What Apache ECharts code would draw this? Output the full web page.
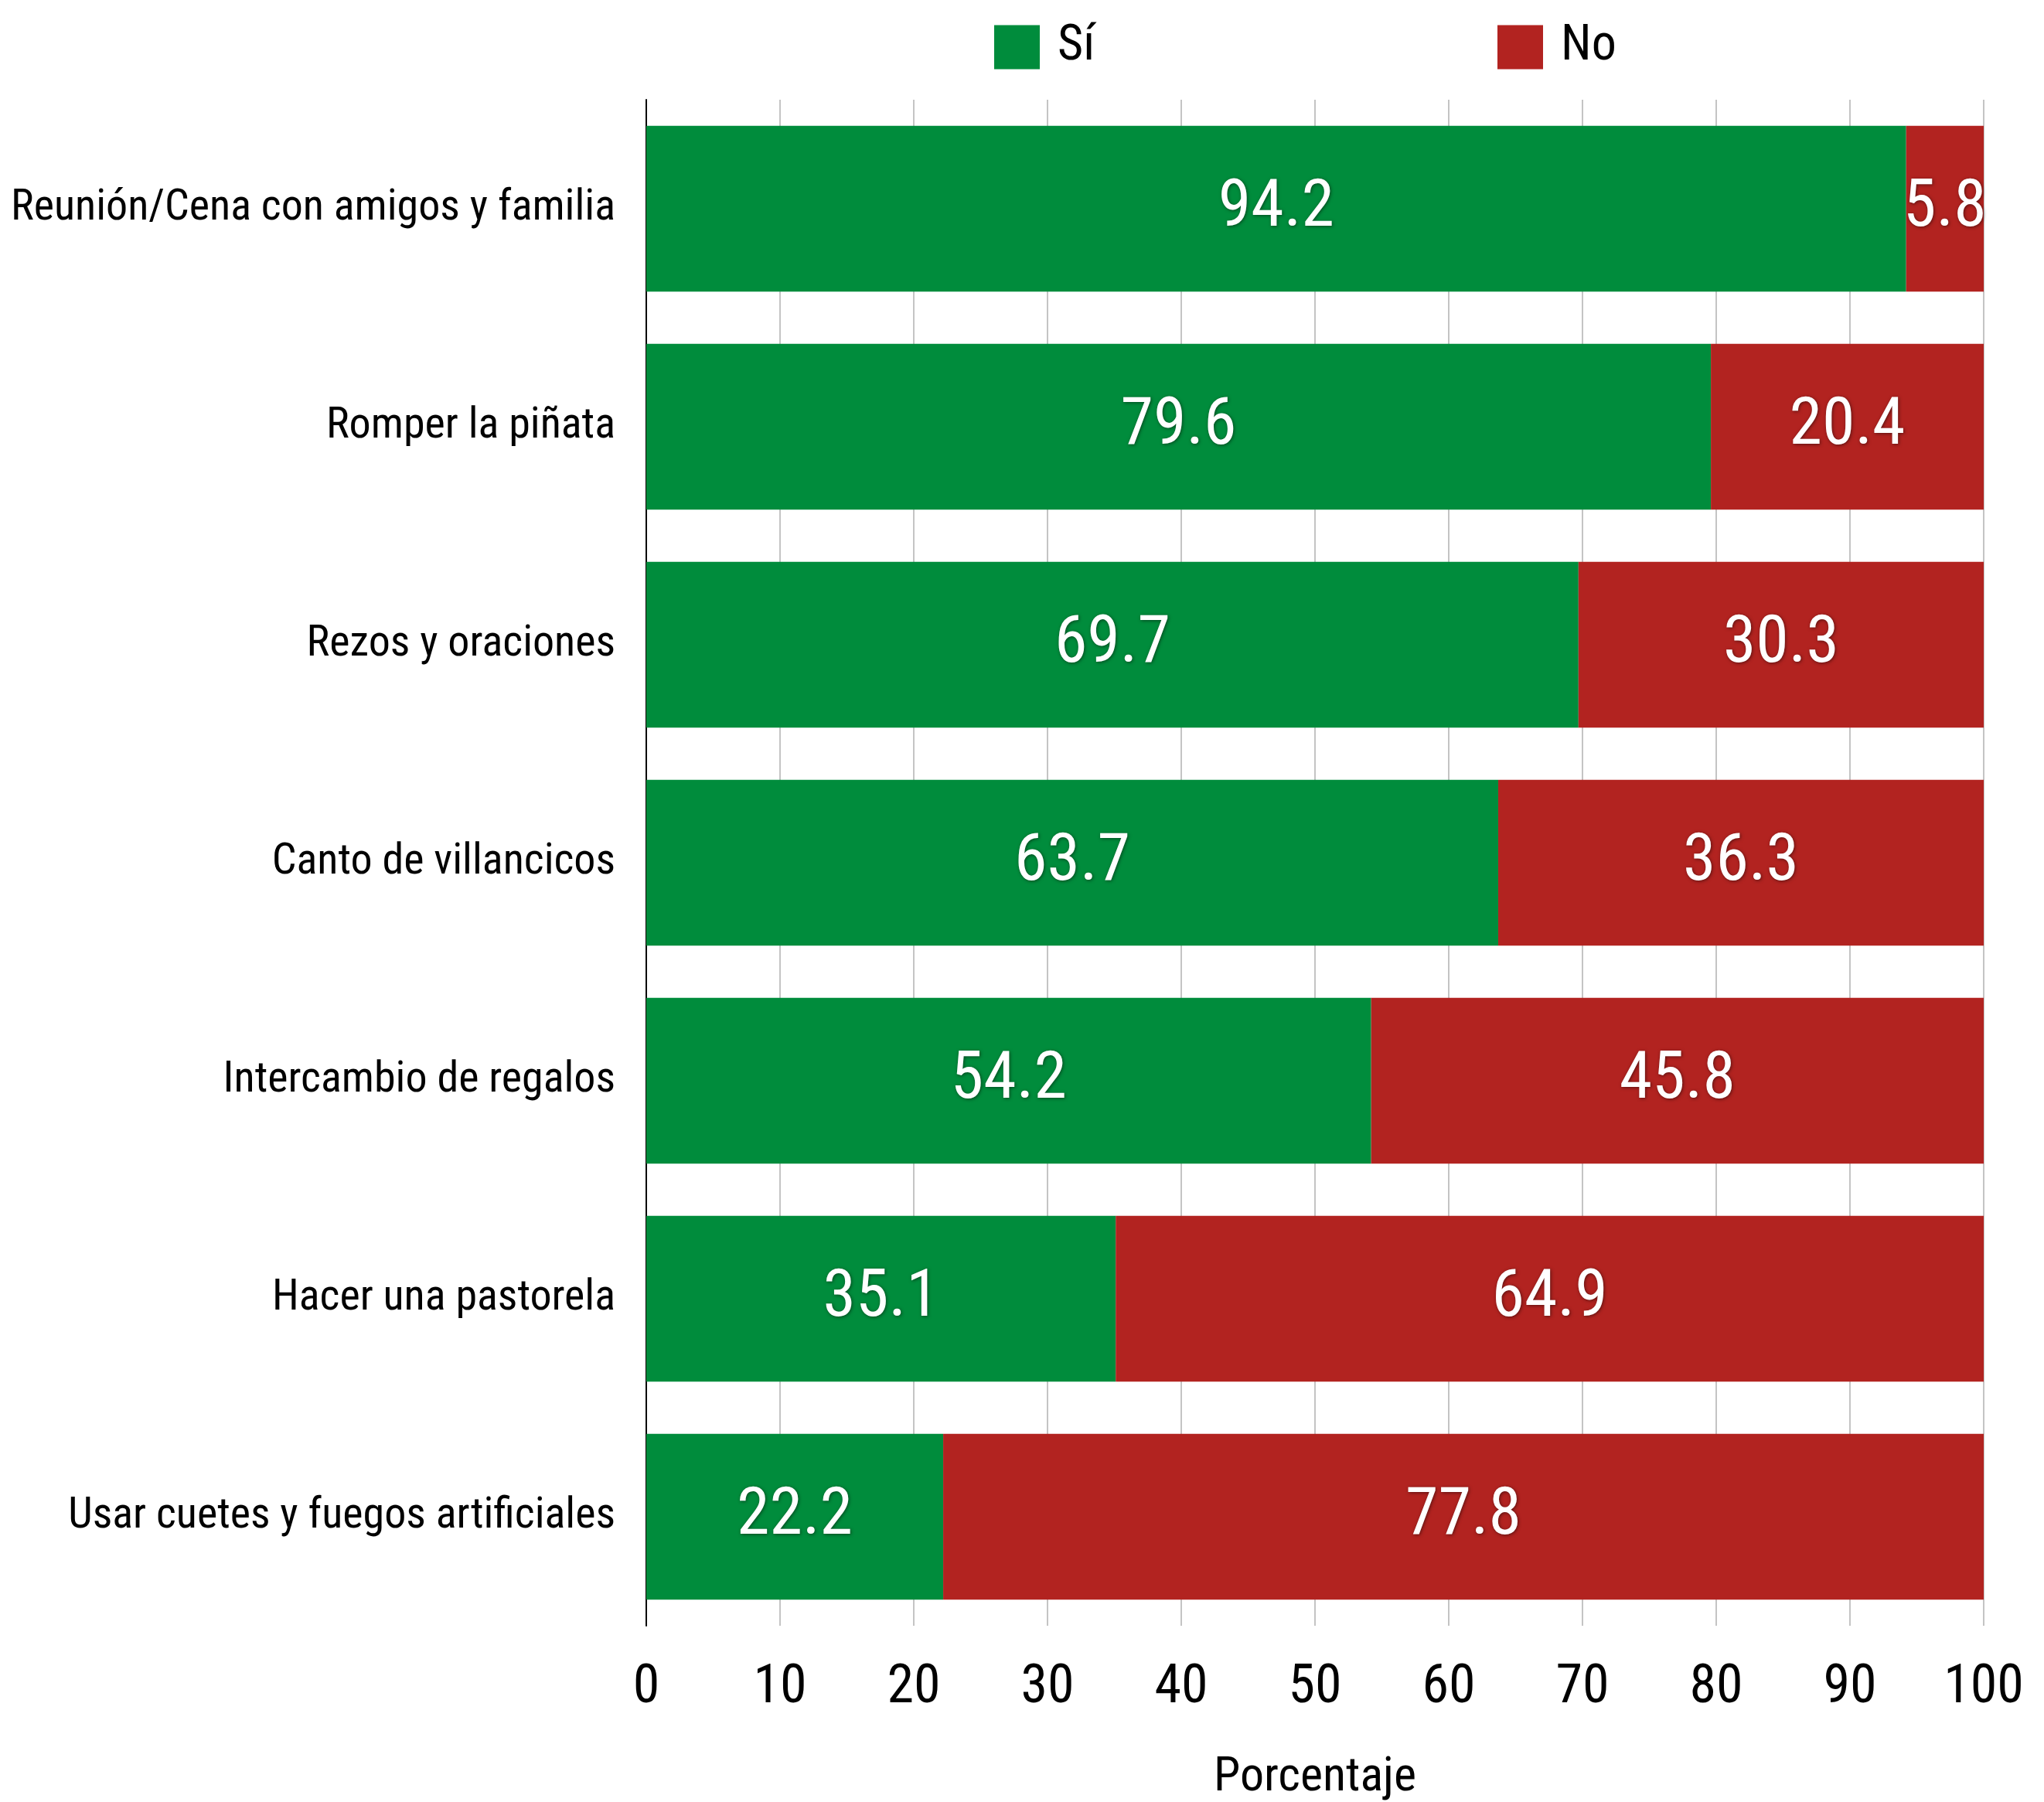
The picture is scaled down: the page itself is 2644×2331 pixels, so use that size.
<!DOCTYPE html>
<html>
<head>
<meta charset="utf-8">
<script src="https://cdn.jsdelivr.net/npm/echarts@6/dist/echarts.min.js"></script>
<style>
html,body{margin:0;padding:0;background:#fff;}
#c{width:2644px;height:2331px;}
</style>
</head>
<body>
<div id="c"></div>
<script>
const categories = [
  'Reunión/Cena con amigos y familia',
  'Romper la piñata',
  'Rezos y oraciones',
  'Canto de villancicos',
  'Intercambio de regalos',
  'Hacer una pastorela',
  'Usar cuetes y fuegos artificiales'
];
const siValues = [94.2, 79.6, 69.7, 63.7, 54.2, 35.1, 22.2];
const noValues = [5.8, 20.4, 30.3, 36.3, 45.8, 64.9, 77.8];
const xTicks = [0, 10, 20, 30, 40, 50, 60, 70, 80, 90, 100];

const FONT = '"Roboto Condensed", "Liberation Sans Narrow", "DejaVu Sans Condensed", Roboto, sans-serif';
const GREEN = '#008C3C';
const RED = '#B22320';

const chart = echarts.init(document.getElementById('c'), null, {renderer: 'canvas'});
const labelStyle = {
  show: true,
  position: 'inside',
  color: '#fff',
  fontFamily: FONT,
  fontSize: 86,
  textShadowColor: 'rgba(0,0,0,0.5)',
  textShadowBlur: 4,
  textShadowOffsetX: 1,
  textShadowOffsetY: 1,
  formatter: p => p.value.toFixed(1)
};
chart.setOption({
  animation: false,
  backgroundColor: '#fff',
  textStyle: {fontFamily: FONT},
  legend: [
    {
      data: ['Sí'], left: 1281, top: 24, itemWidth: 59, itemHeight: 57, icon: 'rect',
      textStyle: {fontFamily: FONT, fontSize: 64, color: '#000', padding: [0, 0, 0, 18]}
    },
    {
      data: ['No'], left: 1932, top: 24, itemWidth: 59, itemHeight: 57, icon: 'rect',
      textStyle: {fontFamily: FONT, fontSize: 64, color: '#000', padding: [0, 0, 0, 18]}
    }
  ],
  grid: {left: 836, right: 2644 - 2566, top: 129, bottom: 2331 - 2103, containLabel: false, outerBoundsMode: 'none'},
  xAxis: {
    type: 'value', min: 0, max: 100, interval: 10,
    axisLine: {show: false},
    axisTick: {show: false},
    splitLine: {show: true, lineStyle: {color: '#c4c4c4', width: 2}},
    axisLabel: {
      fontFamily: FONT, fontSize: 70, color: '#000', margin: 46,
      formatter: v => xTicks.includes(v) ? String(v) : ''
    },
    name: 'Porcentaje', nameLocation: 'middle', nameGap: 166,
    nameTextStyle: {fontFamily: FONT, fontSize: 62, color: '#000'}
  },
  yAxis: {
    type: 'category', data: categories, inverse: true,
    axisLine: {show: true, lineStyle: {color: '#000', width: 2}},
    axisTick: {show: false},
    axisLabel: {fontFamily: FONT, fontSize: 56, color: '#000', margin: 40}
  },
  series: [
    {
      name: 'Sí', type: 'bar', stack: 'total', data: siValues,
      barCategoryGap: '24%', itemStyle: {color: GREEN},
      label: labelStyle
    },
    {
      name: 'No', type: 'bar', stack: 'total', data: noValues,
      barCategoryGap: '24%', itemStyle: {color: RED},
      label: labelStyle
    }
  ]
});
</script>
</body>
</html>
